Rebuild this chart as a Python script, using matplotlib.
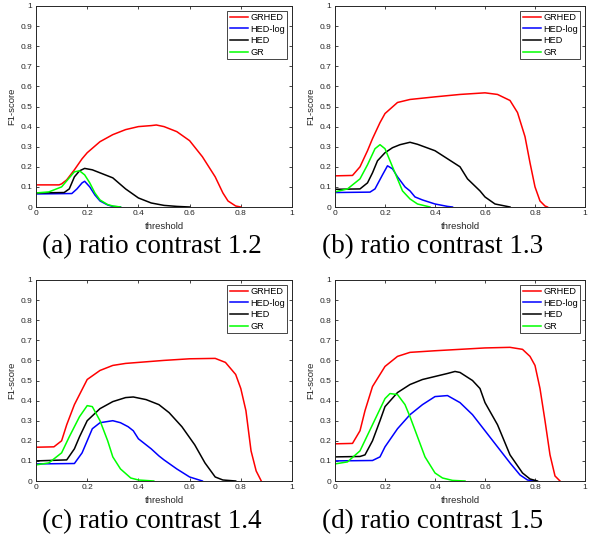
import matplotlib
matplotlib.use("Agg")
import matplotlib.pyplot as plt
import numpy as np

plt.rcParams['font.family'] = ['Liberation Sans', 'DejaVu Sans']

series_names = ["GRHED", "HED-log", "HED", "GR"]
series_colors = ["#ff0000", "#0000ff", "#000000", "#00ff00"]
captions = ["(a) ratio contrast 1.2", "(b) ratio contrast 1.3",
            "(c) ratio contrast 1.4", "(d) ratio contrast 1.5"]
xticks = [0, 0.2, 0.4, 0.6, 0.8, 1]
yticks = [0, 0.1, 0.2, 0.3, 0.4, 0.5, 0.6, 0.7, 0.8, 0.9, 1]

# (a) ratio contrast 1.2
a_grhed_x = [0, 0.09, 0.1, 0.12, 0.15, 0.18, 0.2, 0.25, 0.3, 0.35, 0.4, 0.45, 0.47, 0.5, 0.55, 0.6, 0.65, 0.7, 0.73, 0.75, 0.78, 0.8]
a_grhed_y = [0.11, 0.11, 0.115, 0.135, 0.185, 0.24, 0.27, 0.325, 0.36, 0.385, 0.40, 0.405, 0.408, 0.40, 0.375, 0.33, 0.25, 0.15, 0.07, 0.03, 0.005, 0.0]
a_hedlog_x = [0, 0.14, 0.16, 0.18, 0.19, 0.21, 0.23, 0.25, 0.28, 0.3, 0.33]
a_hedlog_y = [0.065, 0.067, 0.09, 0.12, 0.128, 0.1, 0.06, 0.03, 0.01, 0.003, 0.0]
a_hed_x = [0, 0.11, 0.13, 0.15, 0.17, 0.19, 0.22, 0.25, 0.3, 0.35, 0.4, 0.45, 0.5, 0.55, 0.6]
a_hed_y = [0.07, 0.072, 0.09, 0.15, 0.18, 0.192, 0.185, 0.17, 0.145, 0.09, 0.045, 0.02, 0.008, 0.003, 0.0]
a_gr_x = [0, 0.05, 0.1, 0.12, 0.15, 0.17, 0.19, 0.21, 0.23, 0.25, 0.28, 0.3, 0.33]
a_gr_y = [0.07, 0.075, 0.1, 0.13, 0.175, 0.18, 0.16, 0.12, 0.07, 0.035, 0.012, 0.005, 0.0]

# (b) ratio contrast 1.3
b_grhed_x = [0, 0.07, 0.1, 0.13, 0.15, 0.18, 0.2, 0.25, 0.3, 0.4, 0.5, 0.6, 0.65, 0.7, 0.73, 0.76, 0.78, 0.8, 0.82, 0.84, 0.85]
b_grhed_y = [0.155, 0.157, 0.2, 0.28, 0.34, 0.42, 0.465, 0.52, 0.535, 0.548, 0.56, 0.568, 0.56, 0.53, 0.47, 0.35, 0.22, 0.1, 0.03, 0.005, 0.0]
b_hedlog_x = [0, 0.14, 0.16, 0.19, 0.21, 0.23, 0.25, 0.28, 0.3, 0.32, 0.35, 0.4, 0.45, 0.47]
b_hedlog_y = [0.072, 0.074, 0.09, 0.16, 0.205, 0.19, 0.15, 0.1, 0.08, 0.05, 0.035, 0.015, 0.003, 0.0]
b_hed_x = [0, 0.1, 0.13, 0.15, 0.17, 0.2, 0.23, 0.26, 0.3, 0.33, 0.4, 0.45, 0.5, 0.53, 0.58, 0.6, 0.64, 0.7]
b_hed_y = [0.088, 0.09, 0.12, 0.17, 0.23, 0.27, 0.295, 0.31, 0.322, 0.312, 0.28, 0.24, 0.2, 0.14, 0.08, 0.05, 0.015, 0.0]
b_gr_x = [0, 0.05, 0.1, 0.13, 0.16, 0.18, 0.2, 0.22, 0.25, 0.27, 0.3, 0.33, 0.38]
b_gr_y = [0.075, 0.09, 0.14, 0.21, 0.29, 0.31, 0.29, 0.23, 0.14, 0.08, 0.04, 0.015, 0.0]

# (c) ratio contrast 1.4
c_grhed_x = [0, 0.07, 0.1, 0.12, 0.15, 0.18, 0.2, 0.25, 0.3, 0.35, 0.4, 0.5, 0.6, 0.7, 0.74, 0.78, 0.8, 0.82, 0.83, 0.84, 0.86, 0.88]
c_grhed_y = [0.168, 0.17, 0.2, 0.28, 0.38, 0.455, 0.505, 0.55, 0.575, 0.585, 0.59, 0.6, 0.608, 0.61, 0.59, 0.53, 0.46, 0.35, 0.25, 0.15, 0.05, 0.0]
c_hedlog_x = [0, 0.15, 0.18, 0.2, 0.22, 0.25, 0.3, 0.33, 0.36, 0.38, 0.4, 0.45, 0.48, 0.5, 0.55, 0.6, 0.65]
c_hedlog_y = [0.085, 0.087, 0.14, 0.2, 0.26, 0.29, 0.3, 0.29, 0.27, 0.25, 0.21, 0.16, 0.125, 0.105, 0.06, 0.02, 0.0]
c_hed_x = [0, 0.12, 0.15, 0.17, 0.2, 0.25, 0.3, 0.35, 0.38, 0.43, 0.48, 0.52, 0.57, 0.62, 0.66, 0.7, 0.73, 0.78]
c_hed_y = [0.1, 0.105, 0.16, 0.22, 0.3, 0.36, 0.395, 0.415, 0.418, 0.405, 0.38, 0.34, 0.27, 0.18, 0.09, 0.02, 0.005, 0.0]
c_gr_x = [0, 0.05, 0.1, 0.13, 0.17, 0.2, 0.22, 0.25, 0.28, 0.3, 0.33, 0.37, 0.4, 0.46]
c_gr_y = [0.08, 0.09, 0.14, 0.22, 0.32, 0.375, 0.37, 0.3, 0.2, 0.12, 0.06, 0.015, 0.005, 0.0]

# (d) ratio contrast 1.5
d_grhed_x = [0, 0.07, 0.1, 0.12, 0.15, 0.2, 0.25, 0.3, 0.4, 0.5, 0.6, 0.7, 0.75, 0.78, 0.8, 0.82, 0.84, 0.86, 0.88, 0.9]
d_grhed_y = [0.185, 0.187, 0.25, 0.35, 0.47, 0.57, 0.62, 0.64, 0.648, 0.655, 0.662, 0.665, 0.655, 0.62, 0.575, 0.46, 0.3, 0.13, 0.025, 0.0]
d_hedlog_x = [0, 0.15, 0.18, 0.2, 0.25, 0.3, 0.35, 0.4, 0.45, 0.5, 0.55, 0.6, 0.65, 0.7, 0.74, 0.77, 0.8]
d_hedlog_y = [0.1, 0.102, 0.12, 0.17, 0.26, 0.33, 0.38, 0.42, 0.425, 0.39, 0.33, 0.25, 0.17, 0.09, 0.03, 0.005, 0.0]
d_hed_x = [0, 0.1, 0.12, 0.15, 0.18, 0.2, 0.25, 0.3, 0.35, 0.4, 0.45, 0.48, 0.5, 0.55, 0.58, 0.6, 0.65, 0.7, 0.75, 0.78, 0.81]
d_hed_y = [0.12, 0.122, 0.13, 0.2, 0.3, 0.37, 0.44, 0.48, 0.505, 0.52, 0.535, 0.545, 0.54, 0.5, 0.46, 0.39, 0.28, 0.13, 0.04, 0.01, 0.0]
d_gr_x = [0, 0.05, 0.1, 0.15, 0.2, 0.22, 0.25, 0.28, 0.3, 0.33, 0.36, 0.4, 0.43, 0.47, 0.52]
d_gr_y = [0.085, 0.095, 0.15, 0.28, 0.41, 0.435, 0.43, 0.38, 0.32, 0.22, 0.12, 0.04, 0.015, 0.003, 0.0]

panels = [
    [(a_grhed_x, a_grhed_y), (a_hedlog_x, a_hedlog_y), (a_hed_x, a_hed_y), (a_gr_x, a_gr_y)],
    [(b_grhed_x, b_grhed_y), (b_hedlog_x, b_hedlog_y), (b_hed_x, b_hed_y), (b_gr_x, b_gr_y)],
    [(c_grhed_x, c_grhed_y), (c_hedlog_x, c_hedlog_y), (c_hed_x, c_hed_y), (c_gr_x, c_gr_y)],
    [(d_grhed_x, d_grhed_y), (d_hedlog_x, d_hedlog_y), (d_hed_x, d_hed_y), (d_gr_x, d_gr_y)],
]

W, H = 589, 548
fig = plt.figure(figsize=(W / 100, H / 100), dpi=100)

# axes rectangles in pixels: left, top, right, bottom
rects = [(36, 6, 292, 207), (335, 6, 585, 207), (36, 280, 292, 481), (335, 280, 585, 481)]
caption_pos = [(152, 247), (433, 247), (152, 522), (433, 522)]
axc = "#262626"

for i, (l, t, r, b) in enumerate(rects):
    ax = fig.add_axes([l / W, 1 - b / H, (r - l) / W, (b - t) / H])
    for (xs, ys), name, col in zip(panels[i], series_names, series_colors):
        ax.plot(xs, ys, color=col, lw=1.1, label=name)
    ax.set_xlim(0, 1)
    ax.set_ylim(0, 1)
    ax.set_xticks(xticks)
    ax.set_xticklabels([f"{v:g}" for v in xticks])
    ax.set_yticks(yticks)
    ax.set_yticklabels([f"{v:g}" for v in yticks])
    ax.tick_params(direction='in', length=2.5, width=0.6, labelsize=6, colors=axc,
                   top=True, right=True, pad=2.5)
    for s in ax.spines.values():
        s.set_color(axc)
        s.set_linewidth(0.7)
    ax.set_xlabel("threshold", fontsize=6.8, color=axc, labelpad=3)
    ax.set_ylabel("F1-score", fontsize=6.8, color=axc, labelpad=3)
    leg = ax.legend(loc='upper right', fontsize=6.6, frameon=True, fancybox=False,
                    edgecolor=axc, framealpha=1, borderpad=0.25, handlelength=2.0,
                    handletextpad=0.25, labelspacing=0.3, borderaxespad=0.5)
    leg.get_frame().set_linewidth(0.6)
    cx, cy = caption_pos[i]
    fig.text(cx / W, 1 - cy / H, captions[i], ha='center', va='center',
             fontsize=19.5, family=['Liberation Serif', 'DejaVu Serif'])

fig.savefig("out.png", dpi=100)
